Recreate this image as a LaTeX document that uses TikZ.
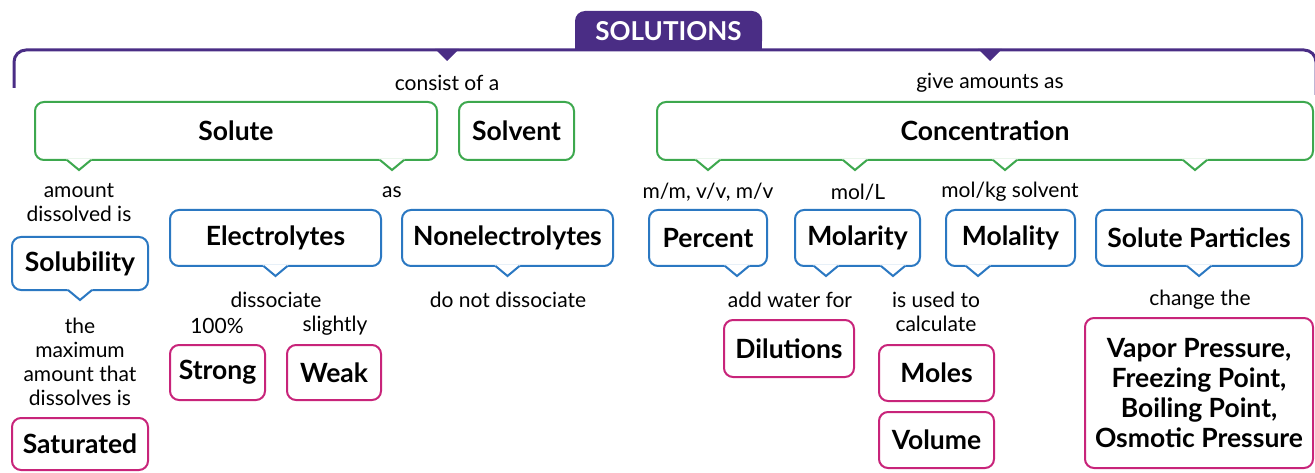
\documentclass[tikz,border=0pt]{standalone}
\usepackage{fontspec}
\setmainfont{Lato}
\usepackage{tikz}
\usetikzlibrary{positioning}

\definecolor{cpurple}{RGB}{74,45,133}
\definecolor{cgreen}{RGB}{61,168,78}
\definecolor{cblue}{RGB}{43,120,194}
\definecolor{cmag}{RGB}{200,36,122}

\tikzset{box/.style={draw, line width=2pt, rounded corners=9pt, fill=white, outer sep=0pt,
  inner sep=0pt, align=center, font=\bfseries\fontsize{26.5}{30}\selectfont},
grnbox/.style={box, draw=cgreen},
blubox/.style={box, draw=cblue},
magbox/.style={box, draw=cmag},
note/.style={align=center, inner sep=0pt, font=\fontsize{21}{24}\selectfont}
}

% speech-bubble tip under a box: node, x offset, colour
\newcommand{\pointer}[3]{%
  \fill[white] (#1.south) ++(#2-13,-1.2) -- ++(13,12) -- ++(13,-12) -- cycle;
  \draw[#3, line width=2pt] (#1.south) ++(#2-12,0) -- ++(12,10) -- ++(12,-10);
}

\begin{document}
\begin{tikzpicture}[x=1pt, y=-1pt]
\useasboundingbox (0,0) rectangle (1315,473);

% title tab and bracket
\fill[cpurple] (575,30) rectangle (762,51);
\node[fill=cpurple, rounded corners=10pt, minimum width=187pt, minimum height=40pt, text=white,
  font=\bfseries\fontsize{26}{28}\selectfont] (title) at (668.5,31) {SOLUTIONS};
\draw[cpurple, line width=3pt, rounded corners=12pt] (14,88) -- (14,50) -- (1316,50) -- (1316,95);
\fill[cpurple] (435,49) -- (447,61) -- (459,49) -- cycle;
\fill[cpurple] (978,49) -- (990,61) -- (1002,49) -- cycle;

\node[note] (consist) at (447,83) {consist of a};
\node[note] (give) at (990,83) {give amounts as};

% first row
\node[grnbox, minimum width=402pt, minimum height=58pt] (solute) at (236,131) {Solute};
\node[grnbox, minimum width=115pt, minimum height=58pt] (solvent) at (516.5,131) {Solvent};
\node[grnbox, minimum width=656pt, minimum height=58pt] (conc) at (985,131) {Concentration};
\pointer{solute}{-157}{cgreen}
\pointer{solute}{156}{cgreen}
\pointer{conc}{-277}{cgreen}
\pointer{conc}{-130}{cgreen}
\pointer{conc}{20}{cgreen}
\pointer{conc}{210}{cgreen}

% solute side
\node[note] (dissolved) at (79,203) {amount\\dissolved is};
\node[note] (as) at (392,192) {as};
\node[blubox, minimum width=136pt, minimum height=53pt] (solubility) at (80,263.5) {Solubility};
\node[blubox, minimum width=211pt, minimum height=56pt] (electro) at (275.5,238) {Electrolytes};
\node[blubox, minimum width=211pt, minimum height=56pt] (nonelectro) at (507.5,238) {Nonelectrolytes};
\pointer{solubility}{0}{cblue}
\pointer{electro}{0}{cblue}
\pointer{nonelectro}{0}{cblue}

\node[note] (dissoc) at (276,300) {dissociate};
\node[note] (notdissoc) at (508,300) {do not dissociate};
\node[note] (full) at (217,326) {100\%};
\node[note] (slightly) at (335,326) {slightly};
\node[magbox, minimum width=95pt, minimum height=55pt] (strong) at (217.5,372.5) {Strong};
\node[magbox, minimum width=94pt, minimum height=55pt] (weak) at (334,372.5) {Weak};
\node[note] (maximum) at (80,362) {the\\maximum\\amount that\\dissolves is};
\node[magbox, minimum width=136pt, minimum height=52pt] (saturated) at (80,444) {Saturated};

% concentration side
\node[note] (mm) at (708,192) {m/m, v/v, m/v};
\node[note] (molL) at (858,192) {mol/L};
\node[note] (molkg) at (1010,192) {mol/kg solvent};
\node[blubox, minimum width=118pt, minimum height=56pt] (percent) at (708,238) {Percent};
\node[blubox, minimum width=125pt, minimum height=56pt] (molarity) at (857.5,238) {Molarity};
\node[blubox, minimum width=129pt, minimum height=56pt] (molality) at (1010.5,238) {Molality};
\node[blubox, minimum width=206pt, minimum height=56pt] (particles) at (1199,238) {Solute Particles};
\pointer{percent}{29}{cblue}
\pointer{molarity}{-31.5}{cblue}
\pointer{molarity}{35.5}{cblue}
\pointer{molality}{-32.5}{cblue}
\pointer{particles}{0}{cblue}

\node[note] (water) at (790,300) {add water for};
\node[note] (used) at (936,312) {is used to\\calculate};
\node[note] (change) at (1200,300) {change the};
\node[magbox, minimum width=130pt, minimum height=57pt] (dilutions) at (789,348.5) {Dilutions};
\node[magbox, minimum width=115pt, minimum height=56pt] (moles) at (936.5,373) {Moles};
\node[magbox, minimum width=115pt, minimum height=56pt] (volume) at (936.5,440) {Volume};
\node[magbox, minimum width=228pt, minimum height=150pt] (props) at (1199,393)
  {Vapor Pressure,\\Freezing Point,\\Boiling Point,\\Osmotic Pressure};
\end{tikzpicture}
\end{document}
